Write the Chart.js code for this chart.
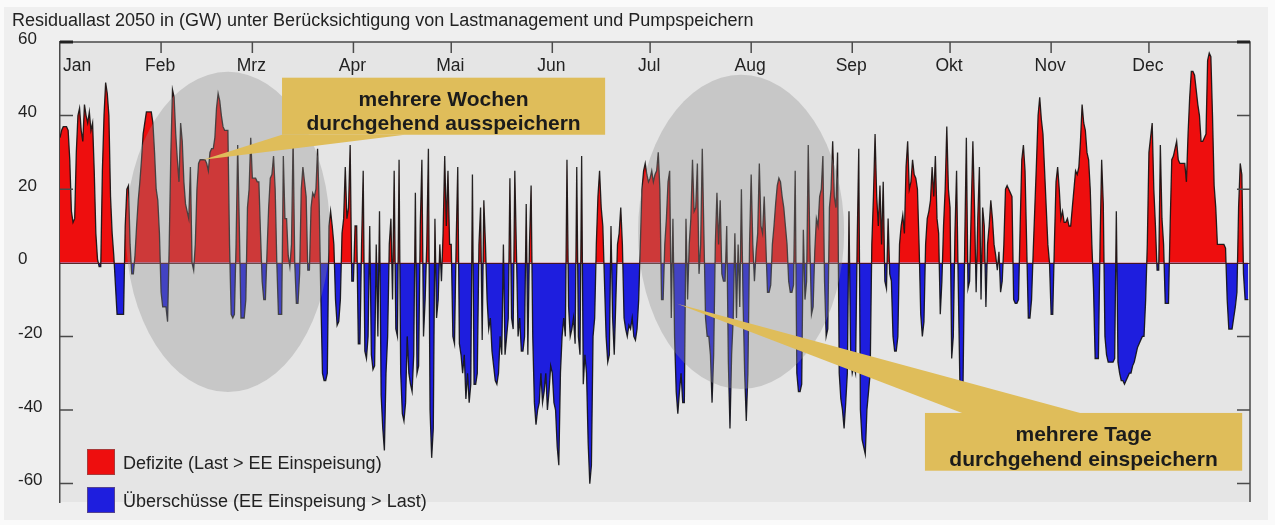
<!DOCTYPE html>
<html>
<head>
<meta charset="utf-8">
<script src="https://cdn.jsdelivr.net/npm/chart.js@4.4.1/dist/chart.umd.min.js"></script>
<style>
html,body{margin:0;padding:0;background:#fafafa;}
#wrap{width:1275px;height:525px;position:relative;}
canvas{display:block;}
</style>
</head>
<body>
<div id="wrap"><canvas id="c" width="1275" height="525"></canvas></div>
<script>
// ---------- data (GW, two readings per day) ----------
const titleText = 'Residuallast 2050 in (GW) unter Berücksichtigung von Lastmanagement und Pumpspeichern';
const months = ['Jan','Feb','Mrz','Apr','Mai','Jun','Jul','Aug','Sep','Okt','Nov','Dec'];
const monthStartDay = [0,31,59,90,120,151,181,212,243,273,304,334];
const yTicks = [60,40,20,0,-20,-40,-60];
const legendLabels = ['Defizite (Last > EE Einspeisung)', 'Überschüsse (EE Einspeisung > Last)'];
const calloutTexts = [['mehrere Wochen','durchgehend ausspeichern'],['mehrere Tage','durchgehend einspeichern']];
const stepsPerDay = 2;

const jan = [34,36, 37,37, 37,36, 28,14, 11,12, 30,40, 42,36, 33,43, 40,38, 41,36, 38,25, 8,1, -1,-1, 25,40, 49,46, 40,18, 8,2, -6,-14, -14,-14, -14,-14, 10,20, 21,5, -3,-3, 2,10, 17,22, 28,35, 38,41, 41,41, 41,38, 30,20, 17,8];
const feb = [-8,-12, -12,-12, -16,5, 30,47, 45,35, 28,22, 38,33, 22,16, 14,12, 26,0, -2,5, 20,27, 28,28, 28,28, 27,25, 30,31, 31,34, 42,46, 44,40, 37,36, 36,36, 5,-14, -15,-14, 5,32, 10,-15, -15,-15, -10,15, 20,34];
const mar = [23,23, 23,22, 22,8, -5,-10, -10,3, 15,23, 24,29, 20,0, -14,-14, -14,29, 12,12, 2,-1, 5,34, 0,-11, -11,-3, 20,26, 22,18, -2,-2, 15,19, 18,20, 31,16, -9,-30, -32,-32, -30,10, 14,10, 5,-10, -17,-16, -10,8, 12,26, 12,15, 32,-5];
const apr = [-5,10, 10,-22, -22,5, 25,-24, -26,-20, 10,-25, -29,-28, 5,-20, 14,-36, -45,-51, -30,-20, 5,12, -10,25, -18,-20, 28,-30, -41,-43, -38,-20, -30,-33, -35,-25, 19,-30, -28,10, 28,-20, -10,5, 31,-40, -53,-45, 12,-15, -10,5, -5,8, 29,10, 25,5];
const mai = [5,-20, -22,5, 26,-22, -25,-30, -25,-37, -30,-38, -33,24, -33,-33, -30,5, 15,-21, 17,5, -10,-18, -15,-24, -28,-32, -33,-30, -20,-25, 5,-25, -20,-15, 23,-15, -18,25, 3,-20, -15,-24, -24,-20, 16,-25, 5,21, -20,-38, -44,-40, -38,-30, -38,-35, -30,-40, -35,-28];
const jun = [-30,-38, -40,-50, -55,-30, -20,-15, -20,28, -12,-20, -18,-15, -22,26, -20,-25, 29,-33, -25,-30, -49,-60, -55,-20, -15,5, 18,25, 15,10, -5,-20, -27,-25, 10,-15, -25,-10, 5,8, 15,5, -15,-18, -20,-17, -18,-15, -20,-21, -18,-10, 5,20, 25,27, 24,22];
const jul = [23,25, 22,24, 25,30, 20,-10, -10,5, 12,22, 25,-15, 12,-20, -35,-41, -35,-30, -38,-38, 12,-10, 5,12, 28,14, 15,27, -3,5, 31,8, -15,-20, -20,-25, -38,-25, 5,19, 5,17, -3,-5, -5,10, -27,-45, -25,-15, 8,-15, 5,-12, 20,-10, -30,-43, -30,5];
const aug = [24,5, -5,3, 8,27, 10,8, 18,5, -8,-8, -6,5, 10,16, 21,23, 22,18, 15,10, 5,-5, -8,-8, -6,25, -30,-35, -35,-33, 9,-10, -5,32, 5,-14, -12,3, 12,10, 18,20, 29,-5, -20,-18, 15,20, 33,18, 15,30, -30,-37, -40,-45, -38,-30, 14,-25];
const sep = [-30,-28, -30,5, 31,-40, -48,-50, -52,-40, -35,-30, 5,18, 35,18, 10,21, 5,22, -5,-7, 12,-3, -5,-20, -24,-24, -20,5, 10,13, 8,26, 33,20, 22,28, 24,23, 20,5, -14,-20, -16,5, 12,14, 17,26, 18,29, 12,8, -14,-5, 10,20, 37,20];
const okt = [15,-26, -20,8, 25,-5, -32,-40, -32,5, 34,-7, -5,15, 33,15, -8,12, 26,-10, 15,10, -12,5, 10,17, 12,5, 2,-2, 3,-8, -5,5, 20,21, 20,19, 18,-10, -11,-11, -10,10, 28,32, 25,5, -15,-15, -10,3, 15,27, 40,45, 39,35, 25,15, 5,0];
const nov = [-14,-14, 5,22, 26,20, 12,14, 11,11, 12,10, 10,15, 20,25, 24,26, 33,43, 38,36, 30,28, 20,5, -7,-26, -26,-26, 5,28, 16,-20, -25,-27, -27,-27, -27,-26, 14,-27, -30,-32, -32,-33, -32,-31, -30,-30, -28,-27, -25,-23, -22,-21, -20,-20, -10,5];
const dec = [30,34, 38,20, 10,-2, -2,32, 12,5, -11,-11, -11,10, 28,29, 31,33, 28,27, 27,27, 27,22, 35,45, 52,52, 51,47, 43,40, 33,33, 34,35, 55,57, 56,40, 21,15, 5,5, 5,5, 5,4, -10,-18, -18,-18, -15,-12, -8,15, 27,24, -3,-10, -10,-10];

const residual = [].concat(jan,feb,mar,apr,mai,jun,jul,aug,sep,okt,nov,dec);

// ---------- decoration geometry (in data units: day of year / GW) ----------
const ellipses = [
  {cx: 51.5, cy: 8.4, rx: 31.3, ry: 43.5},
  {cx: 208.9, cy: 8.4, rx: 31.6, ry: 42.7}
];
const callouts = [
  {x0: 68.1, x1: 167.2, y0: 50.3, y1: 34.8, tip: [43.9, 28], base: [[68.1, 34.8], [105.8, 34.8]]},
  {x0: 265.3, x1: 362.6, y0: -40.8, y1: -56.5, tip: [189.3, -11.1], base: [[276.7, -40.8], [312.9, -40.8]]}
];

const FONT = '"Liberation Sans", Arial, Helvetica, sans-serif';
const RED = 'rgb(238,14,14)';
const BLUE = 'rgb(30,30,222)';
const GOLD = '#dfbd5a';
const AXIS = '#4a4a4a';

const bgPlugin = {
  id: 'bg',
  beforeDraw(chart) {
    const {ctx, chartArea: a, width, height} = chart;
    ctx.save();
    ctx.fillStyle = '#fafafa';
    ctx.fillRect(0, 0, width, height);
    ctx.fillStyle = '#efefef';
    ctx.fillRect(4, 7, width - 11, height - 12);
    ctx.fillStyle = '#e5e5e5';
    ctx.fillRect(a.left, a.top, a.right - a.left, a.bottom - a.top);
    // title
    ctx.fillStyle = '#222';
    ctx.font = '18px ' + FONT;
    ctx.textBaseline = 'alphabetic';
    ctx.textAlign = 'left';
    ctx.fillText(titleText, 12, 26);
    ctx.restore();
  }
};

const decoPlugin = {
  id: 'deco',
  afterDatasetsDraw(chart) {
    const {ctx, chartArea: a, scales: {x, y}} = chart;
    const X = v => x.getPixelForValue(v);
    const Y = v => y.getPixelForValue(v);
    ctx.save();
    // zero line
    ctx.strokeStyle = 'rgba(70,20,20,0.9)';
    ctx.lineWidth = 1;
    ctx.beginPath();
    ctx.moveTo(a.left, Math.round(Y(0)) + 0.5);
    ctx.lineTo(a.right, Math.round(Y(0)) + 0.5);
    ctx.stroke();
    // ellipses
    ctx.fillStyle = 'rgba(140,140,140,0.34)';
    ellipses.forEach(e => {
      ctx.beginPath();
      ctx.ellipse(X(e.cx), Y(e.cy), X(e.cx + e.rx) - X(e.cx), Y(e.cy) - Y(e.cy + e.ry), 0, 0, Math.PI * 2);
      ctx.fill();
    });
    // frame: top and right
    ctx.strokeStyle = AXIS;
    ctx.lineWidth = 1.5;
    ctx.beginPath();
    ctx.moveTo(a.left, a.top);
    ctx.lineTo(a.right, a.top);
    ctx.lineTo(a.right, a.bottom);
    ctx.stroke();
    // inward y ticks left and right
    yTicks.forEach(v => {
      if (v === 0) return;
      const py = Y(v);
      ctx.lineWidth = v === 60 ? 3 : 1.5;
      ctx.strokeStyle = v === 60 ? '#222' : AXIS;
      ctx.beginPath();
      ctx.moveTo(a.left, py); ctx.lineTo(a.left + 13, py);
      ctx.moveTo(a.right, py); ctx.lineTo(a.right - 13, py);
      ctx.stroke();
    });
    // month ticks and labels
    ctx.strokeStyle = AXIS;
    ctx.lineWidth = 1.5;
    ctx.fillStyle = '#222';
    ctx.font = '17.5px ' + FONT;
    ctx.textBaseline = 'middle';
    monthStartDay.forEach((d, i) => {
      const px = X(d);
      if (i > 0) {
        ctx.beginPath();
        ctx.moveTo(px, a.top); ctx.lineTo(px, a.top + 11);
        ctx.stroke();
        ctx.textAlign = 'center';
        ctx.fillText(months[i], px - 1, a.top + 24);
      } else {
        ctx.textAlign = 'left';
        ctx.fillText(months[i], px + 3, a.top + 24);
      }
    });
    // callouts
    callouts.forEach((c, k) => {
      ctx.fillStyle = GOLD;
      ctx.beginPath();
      ctx.moveTo(X(c.tip[0]), Y(c.tip[1]));
      ctx.lineTo(X(c.base[0][0]), Y(c.base[0][1]));
      ctx.lineTo(X(c.base[1][0]), Y(c.base[1][1]));
      ctx.closePath();
      ctx.fill();
      const bx = X(c.x0), by = Y(c.y0), bw = X(c.x1) - bx, bh = Y(c.y1) - by;
      ctx.fillRect(bx, by, bw, bh);
      ctx.fillStyle = '#1b1b1b';
      ctx.font = 'bold 21px ' + FONT;
      ctx.textAlign = 'center';
      ctx.textBaseline = 'middle';
      const cx = bx + bw / 2;
      ctx.fillText(calloutTexts[k][0], cx, by + bh * 0.39);
      ctx.fillText(calloutTexts[k][1], cx, by + bh * 0.82);
    });
    // legend
    const colors = [RED, BLUE];
    ctx.font = '18px ' + FONT;
    ctx.textAlign = 'left';
    ctx.textBaseline = 'middle';
    colors.forEach((col, i) => {
      const top = a.bottom - 53 + i * 38;
      ctx.fillStyle = col;
      ctx.fillRect(a.left + 27, top, 28, 26);
      ctx.strokeStyle = 'rgba(120,90,90,0.6)';
      ctx.lineWidth = 1;
      ctx.strokeRect(a.left + 27.5, top + 0.5, 27, 25);
      ctx.fillStyle = '#222';
      ctx.fillText(legendLabels[i], a.left + 63, top + 15);
    });
    ctx.restore();
  }
};

new Chart(document.getElementById('c'), {
  type: 'line',
  data: {
    datasets: [{
      label: 'Residuallast',
      data: residual.map((v, i) => ({x: i / stepsPerDay, y: v})),
      borderColor: 'rgba(15,15,15,0.9)',
      borderWidth: 1.3,
      pointRadius: 0,
      tension: 0,
      fill: {target: 'origin', above: RED, below: BLUE}
    }]
  },
  options: {
    responsive: false,
    animation: false,
    layout: {padding: {left: 18, right: 25, top: 42, bottom: 23}},
    scales: {
      x: {type: 'linear', min: 0, max: 365, display: false},
      y: {
        min: -65, max: 60,
        afterBuildTicks: s => { s.ticks = yTicks.map(v => ({value: v})); },
        afterFit: s => { s.width = 42; },
        border: {display: true, color: AXIS, width: 1.5},
        grid: {display: false, drawTicks: false},
        ticks: {crossAlign: 'far', color: '#222', font: {family: FONT, size: 17}, labelOffset: -3, padding: 0}
      }
    },
    plugins: {legend: {display: false}, tooltip: {enabled: false}, title: {display: false}}
  },
  plugins: [bgPlugin, decoPlugin]
});
</script>
</body>
</html>
